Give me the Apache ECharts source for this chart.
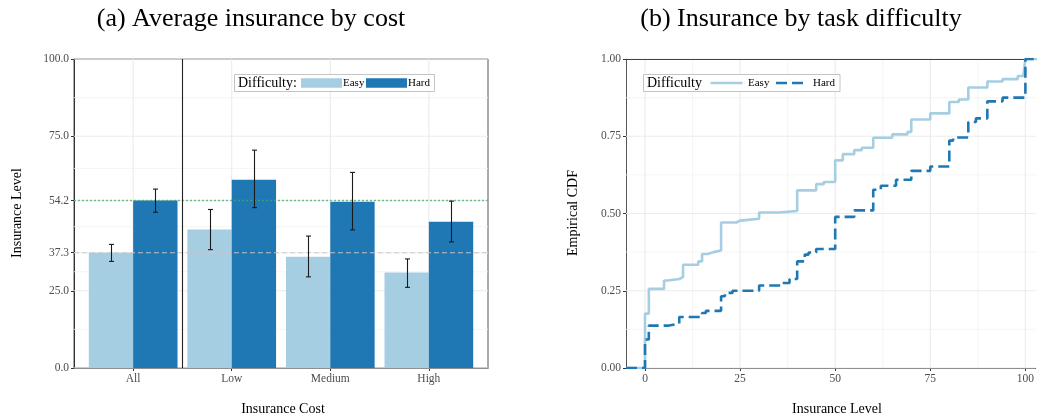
<!DOCTYPE html>
<html>
<head>
<meta charset="utf-8">
<script src="https://cdn.jsdelivr.net/npm/echarts@6/dist/echarts.min.js"></script>
<style>
  html, body { margin: 0; padding: 0; background: #fff; }
  #chart { width: 1037px; height: 420px; }
</style>
</head>
<body>
<div id="chart"></div>
<script>
// Panel (a): mean insurance level per cost condition, with confidence intervals
const categories = ['All', 'Low', 'Medium', 'High'];
const easyMean = [37.3, 44.8, 36.0, 30.9];
const easyLow  = [34.5, 38.3, 29.5, 26.1];
const easyHigh = [40.0, 51.3, 42.7, 35.3];
const hardMean = [54.2, 60.9, 53.8, 47.3];
const hardLow  = [50.4, 51.9, 44.7, 40.8];
const hardHigh = [57.9, 70.5, 63.3, 54.0];
const costTicks = [0, 25, easyMean[0], hardMean[0], 75, 100];

// Panel (b): empirical CDF of the chosen insurance level
const easyLevels = [-5, 0, 1, 5, 6, 9, 10, 14, 15, 16.5, 18, 20, 24, 25, 30, 35, 40, 45, 47, 50,
                    52, 55, 57, 60, 65, 69, 70, 75, 80, 82.5, 85, 90, 94, 98, 99.5, 100, 105];
const easyCdf    = [0, 0.176, 0.256, 0.283, 0.288, 0.294, 0.334, 0.345, 0.369, 0.375, 0.380, 0.471, 0.477, 0.483, 0.503, 0.508, 0.575, 0.595, 0.602, 0.672,
                    0.692, 0.705, 0.713, 0.745, 0.756, 0.764, 0.804, 0.824, 0.861, 0.869, 0.908, 0.927, 0.935, 0.945, 0.952, 1, 1];
const hardLevels = [-5, 0, 1, 6, 9, 15, 16, 20, 21, 23, 30, 36, 38, 40, 42, 43, 45, 50, 55, 60,
                    62, 66, 70, 75, 80, 81, 85, 87, 90, 94, 100, 105];
const hardCdf    = [0, 0.092, 0.137, 0.143, 0.165, 0.178, 0.185, 0.232, 0.243, 0.250, 0.267, 0.275, 0.288, 0.345, 0.367, 0.374, 0.385, 0.489, 0.510, 0.577,
                    0.590, 0.609, 0.638, 0.652, 0.736, 0.746, 0.796, 0.808, 0.863, 0.875, 1, 1];
const levelTicks = [0, 25, 50, 75, 100];
const cdfTicks = [0, 0.25, 0.5, 0.75, 1];

const EASY = '#a6cee3';
const HARD = '#1f78b4';
const SERIF = "'Liberation Serif', 'DejaVu Serif', serif";
const catIdx = categories.map((c, i) => i);

// visible x range of panel (b); the panel runs on past the right edge of the page
const LEVEL_MIN = -5, LEVEL_MAX = 102.7;

function midpoints(arr) {
  const out = [];
  for (let i = 0; i < arr.length - 1; i++) out.push((arr[i] + arr[i + 1]) / 2);
  return out;
}

// background grid lines, drawn through the axes of one panel
function gridRenderer(xMajor, xMinor, yMajor, yMinor, xr, yr, topBorder) {
  return function (params, api) {
    const children = [];
    const seg = (a, b, major) => {
      const p = api.coord(a), q = api.coord(b);
      children.push({
        type: 'line',
        shape: { x1: p[0], y1: p[1], x2: q[0], y2: q[1] },
        style: { stroke: major ? '#ebebeb' : '#f2f2f2', lineWidth: major ? 1.1 : 0.8 }
      });
    };
    xMinor.forEach(v => seg([v, yr[0]], [v, yr[1]], false));
    yMinor.forEach(v => seg([xr[0], v], [xr[1], v], false));
    xMajor.forEach(v => seg([v, yr[0]], [v, yr[1]], true));
    yMajor.forEach(v => seg([xr[0], v], [xr[1], v], true));
    if (topBorder) {
      const p = api.coord([xr[0], yr[1]]), q = api.coord([xr[1], yr[1]]);
      const y = Math.round(p[1]) + 0.5;
      children.push({ type: 'line', shape: { x1: p[0], y1: y, x2: q[0] + 2, y2: y },
        style: { stroke: '#444', lineWidth: 1 } });
    }
    return { type: 'group', children };
  };
}

function barRenderer(color) {
  return function (params, api) {
    const p = api.coord([api.value(0), api.value(2)]);
    const q = api.coord([api.value(1), 0]);
    return {
      type: 'rect',
      shape: { x: p[0], y: p[1], width: q[0] - p[0], height: q[1] - p[1] },
      style: { fill: color }
    };
  };
}

function errRenderer(params, api) {
  const top = api.coord([api.value(0), api.value(2)]);
  const bot = api.coord([api.value(0), api.value(1)]);
  const x = Math.round(top[0]) + 0.5;
  const st = { stroke: '#1a1a1a', lineWidth: 1.1 };
  return {
    type: 'group',
    children: [
      { type: 'line', shape: { x1: x, y1: top[1], x2: x, y2: bot[1] }, style: st },
      { type: 'line', shape: { x1: x - 2.5, y1: top[1], x2: x + 2.5, y2: top[1] }, style: st },
      { type: 'line', shape: { x1: x - 2.5, y1: bot[1], x2: x + 2.5, y2: bot[1] }, style: st }
    ]
  };
}

// overall means as reference lines, and the divider after "All"
function refRenderer(params, api) {
  const a1 = api.coord([-0.6, easyMean[0]]), a2 = api.coord([3.6, easyMean[0]]);
  const b1 = api.coord([-0.6, hardMean[0]]), b2 = api.coord([3.6, hardMean[0]]);
  const d1 = api.coord([0.5, 0]), d2 = api.coord([0.5, 100]);
  const dx = Math.round(d1[0]) + 0.5;
  return {
    type: 'group',
    children: [
      { type: 'line', shape: { x1: a1[0], y1: a1[1], x2: a2[0], y2: a2[1] },
        style: { stroke: 'rgba(200,200,200,0.95)', lineWidth: 1.1, lineDash: [5, 3] } },
      { type: 'line', shape: { x1: b1[0], y1: b1[1], x2: b2[0], y2: b2[1] },
        style: { stroke: 'rgba(65,171,110,0.75)', lineWidth: 1.4, lineDash: [2, 2] } },
      { type: 'line', shape: { x1: dx, y1: d1[1], x2: dx, y2: d2[1] },
        style: { stroke: '#222', lineWidth: 1.1 } }
    ]
  };
}

const axisLabelBase = { color: '#4d4d4d', fontFamily: SERIF, fontSize: 11.5 };
const axisLineBase = { show: true, onZero: false, lineStyle: { color: '#333', width: 1 } };
const tickBase = { show: true, length: 3, lineStyle: { color: '#333' } };

const option = {
  animation: false,
  backgroundColor: '#fff',
  grid: [
    { left: 74, top: 59, width: 414, height: 309, show: true, borderColor: '#555', borderWidth: 1, backgroundColor: 'transparent' },
    { left: 626, top: 59, width: 411, height: 309, show: false }
  ],
  xAxis: [
    { type: 'value', gridIndex: 0, min: -0.6, max: 3.6,
      axisLine: axisLineBase,
      axisTick: Object.assign({ customValues: catIdx }, tickBase),
      axisLabel: Object.assign({ customValues: catIdx, margin: 5,
        formatter: v => categories[Math.round(v)] }, axisLabelBase),
      splitLine: { show: false } },
    { type: 'value', gridIndex: 1, min: LEVEL_MIN, max: LEVEL_MAX,
      axisLine: axisLineBase,
      axisTick: Object.assign({ customValues: levelTicks }, tickBase),
      axisLabel: Object.assign({ customValues: levelTicks, margin: 5,
        formatter: v => String(v) }, axisLabelBase),
      splitLine: { show: false } }
  ],
  yAxis: [
    { type: 'value', gridIndex: 0, min: 0, max: 100,
      axisLine: axisLineBase,
      axisTick: Object.assign({ customValues: costTicks }, tickBase),
      axisLabel: Object.assign({ customValues: costTicks, margin: 5,
        formatter: v => Number(v).toFixed(1) }, axisLabelBase),
      splitLine: { show: false } },
    { type: 'value', gridIndex: 1, min: 0, max: 1,
      axisLine: { show: true, onZero: false, lineStyle: { color: '#555', width: 1 } },
      axisTick: Object.assign({ customValues: cdfTicks }, tickBase),
      axisLabel: Object.assign({ customValues: cdfTicks, margin: 5,
        formatter: v => Number(v).toFixed(2) }, axisLabelBase),
      splitLine: { show: false } }
  ],
  series: [
    { type: 'custom', xAxisIndex: 0, yAxisIndex: 0, z: 1, silent: true,
      data: [[0, 0]],
      renderItem: gridRenderer(catIdx, [], costTicks, midpoints(costTicks), [-0.6, 3.6], [0, 100], false) },
    { type: 'custom', name: 'Easy', xAxisIndex: 0, yAxisIndex: 0, z: 2, silent: true,
      data: catIdx.map(i => [i - 0.45, i, easyMean[i]]),
      renderItem: barRenderer(EASY) },
    { type: 'custom', name: 'Hard', xAxisIndex: 0, yAxisIndex: 0, z: 2, silent: true,
      data: catIdx.map(i => [i, i + 0.45, hardMean[i]]),
      renderItem: barRenderer(HARD) },
    { type: 'custom', xAxisIndex: 0, yAxisIndex: 0, z: 4, silent: true,
      data: [[0, 0]],
      renderItem: refRenderer },
    { type: 'custom', xAxisIndex: 0, yAxisIndex: 0, z: 5, silent: true,
      data: catIdx.map(i => [i - 0.225, easyLow[i], easyHigh[i]])
        .concat(catIdx.map(i => [i + 0.225, hardLow[i], hardHigh[i]])),
      renderItem: errRenderer },

    { type: 'custom', xAxisIndex: 1, yAxisIndex: 1, z: 1, silent: true,
      data: [[0, 0]],
      renderItem: gridRenderer(levelTicks, midpoints(levelTicks), cdfTicks, midpoints(cdfTicks), [LEVEL_MIN, LEVEL_MAX], [0, 1], true) },
    { type: 'line', name: 'Easy', xAxisIndex: 1, yAxisIndex: 1, z: 3, step: 'end',
      showSymbol: false, symbol: 'none', silent: true, clip: true,
      data: easyLevels.map((v, i) => [v, easyCdf[i]]),
      lineStyle: { color: EASY, width: 2.6 } },
    { type: 'line', name: 'Hard', xAxisIndex: 1, yAxisIndex: 1, z: 4, step: 'end',
      showSymbol: false, symbol: 'none', silent: true, clip: true,
      data: hardLevels.map((v, i) => [v, hardCdf[i]]),
      lineStyle: { color: HARD, width: 2.6, type: [11, 5] } }
  ],
  graphic: [
    // titles
    { type: 'text', z: 100, x: 251, y: 19.5,
      style: { text: '(a) Average insurance by cost', font: '26px ' + SERIF, fill: '#000', align: 'center', verticalAlign: 'middle' } },
    { type: 'text', z: 100, x: 801, y: 19.5,
      style: { text: '(b) Insurance by task difficulty', font: '26px ' + SERIF, fill: '#000', align: 'center', verticalAlign: 'middle' } },
    // axis titles
    { type: 'text', z: 100, x: 283, y: 409,
      style: { text: 'Insurance Cost', font: '14px ' + SERIF, fill: '#000', align: 'center', verticalAlign: 'middle' } },
    { type: 'text', z: 100, x: 17, y: 213, rotation: Math.PI / 2,
      style: { text: 'Insurance Level', font: '14px ' + SERIF, fill: '#000', align: 'center', verticalAlign: 'middle' } },
    { type: 'text', z: 100, x: 837, y: 409,
      style: { text: 'Insurance Level', font: '14px ' + SERIF, fill: '#000', align: 'center', verticalAlign: 'middle' } },
    { type: 'text', z: 100, x: 573, y: 213, rotation: Math.PI / 2,
      style: { text: 'Empirical CDF', font: '14px ' + SERIF, fill: '#000', align: 'center', verticalAlign: 'middle' } },

    // legend, panel (a)
    { type: 'rect', z: 100, shape: { x: 234.5, y: 74.5, width: 200, height: 17 },
      style: { fill: '#fff', stroke: '#c4c4c4', lineWidth: 1 } },
    { type: 'text', z: 101, x: 238, y: 83.5,
      style: { text: 'Difficulty:', font: '14px ' + SERIF, fill: '#000', verticalAlign: 'middle' } },
    { type: 'rect', z: 101, shape: { x: 301, y: 78.3, width: 41, height: 9.5 }, style: { fill: EASY } },
    { type: 'text', z: 101, x: 343, y: 83.5,
      style: { text: 'Easy', font: '11px ' + SERIF, fill: '#000', verticalAlign: 'middle' } },
    { type: 'rect', z: 101, shape: { x: 366, y: 78.3, width: 41, height: 9.5 }, style: { fill: HARD } },
    { type: 'text', z: 101, x: 408, y: 83.5,
      style: { text: 'Hard', font: '11px ' + SERIF, fill: '#000', verticalAlign: 'middle' } },

    // legend, panel (b)
    { type: 'rect', z: 100, shape: { x: 643.5, y: 74.5, width: 196.5, height: 17 },
      style: { fill: '#fff', stroke: '#c4c4c4', lineWidth: 1 } },
    { type: 'text', z: 101, x: 647, y: 83.5,
      style: { text: 'Difficulty', font: '14px ' + SERIF, fill: '#000', verticalAlign: 'middle' } },
    { type: 'line', z: 101, shape: { x1: 710.5, y1: 83, x2: 742.5, y2: 83 },
      style: { stroke: EASY, lineWidth: 2.6 } },
    { type: 'text', z: 101, x: 748, y: 83.5,
      style: { text: 'Easy', font: '11px ' + SERIF, fill: '#000', verticalAlign: 'middle' } },
    { type: 'line', z: 101, shape: { x1: 776, y1: 83, x2: 808, y2: 83 },
      style: { stroke: HARD, lineWidth: 2.6, lineDash: [11, 5] } },
    { type: 'text', z: 101, x: 813, y: 83.5,
      style: { text: 'Hard', font: '11px ' + SERIF, fill: '#000', verticalAlign: 'middle' } }
  ]
};

const chart = echarts.init(document.getElementById('chart'), null, { renderer: 'canvas' });
chart.setOption(option);
</script>
</body>
</html>
